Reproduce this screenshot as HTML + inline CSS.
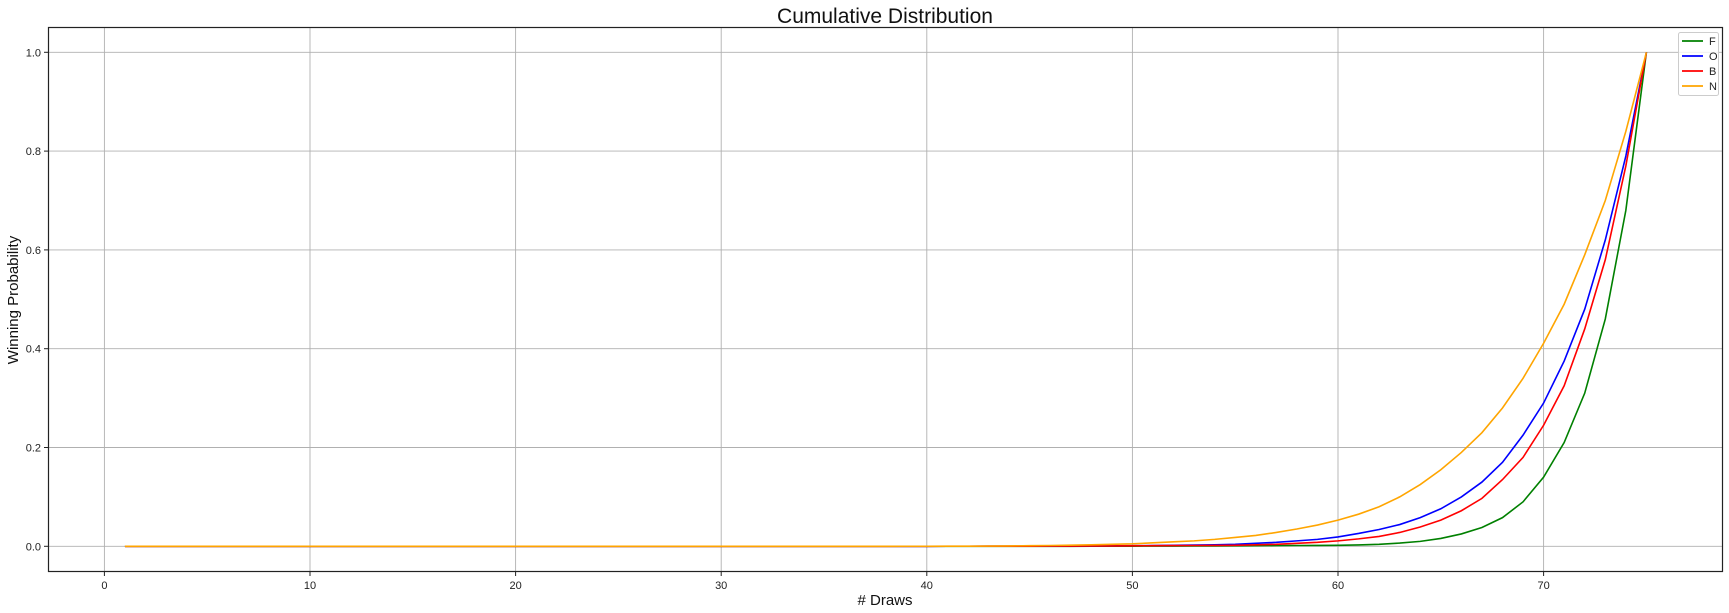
<!DOCTYPE html>
<html><head><meta charset="utf-8"><style>
html,body{margin:0;padding:0;background:#fff;}
svg{display:block;font-family:"Liberation Sans","DejaVu Sans",sans-serif;}
</style></head><body>
<svg id="chart" width="1729" height="613" viewBox="0 0 1729 613" xmlns="http://www.w3.org/2000/svg">
<rect width="1729" height="613" fill="#fff"/>
<g id="grid"></g>
<g id="series"></g>
<rect x="48.5" y="27.5" width="1674" height="544" fill="none" stroke="#222" stroke-width="1.2"/>
<g id="ticks"></g>
<text x="885" y="23" font-size="21" text-anchor="middle" fill="#111">Cumulative Distribution</text>
<text x="885" y="605" font-size="15" text-anchor="middle" fill="#111"># Draws</text>
<text x="0" y="0" font-size="15" text-anchor="middle" fill="#111" transform="translate(18,300) rotate(-90)">Winning Probability</text>
<g id="legend"></g>
</svg>
<script>
const xTicks = [0,10,20,30,40,50,60,70];
const yTicks = [0.0,0.2,0.4,0.6,0.8,1.0];
const yTickLabels = ["0.0","0.2","0.4","0.6","0.8","1.0"];
const seriesNames = ["F","O","B","N"];
const seriesColors = ["green","blue","red","orange"];
const draws = [1,2,3,4,5,6,7,8,9,10,11,12,13,14,15,16,17,18,19,20,21,22,23,24,25,26,27,28,29,30,31,32,33,34,35,36,37,38,39,40,41,42,43,44,45,46,47,48,49,50,51,52,53,54,55,56,57,58,59,60,61,62,63,64,65,66,67,68,69,70,71,72,73,74,75];
const seriesF = [0,0,0,0,0,0,0,0,0,0,0,0,0,0,0,0,0,0,0,0,0,0,0,0,0,0,0,0,0,0,0,0,0,0,0,0,0,0,0,0,0,0,0,0,0,0,0,0.0001,0.0002,0.0003,0.0004,0.0005,0.0006,0.0008,0.001,0.0012,0.0014,0.0016,0.0018,0.002,0.0028,0.004,0.0065,0.01,0.016,0.025,0.038,0.058,0.09,0.14,0.21,0.31,0.46,0.68,1.0];
const seriesO = [0,0,0,0,0,0,0,0,0,0,0,0,0,0,0,0,0,0,0,0,0,0,0,0,0,0,0,0,0,0,0,0,0,0,0,0,0,0,0,0,0.0001,0.0001,0.0002,0.0003,0.0004,0.0005,0.0006,0.0008,0.001,0.0012,0.0015,0.002,0.0025,0.003,0.004,0.006,0.008,0.011,0.014,0.019,0.026,0.034,0.044,0.058,0.076,0.1,0.13,0.17,0.225,0.29,0.375,0.48,0.62,0.79,1.0];
const seriesB = [0,0,0,0,0,0,0,0,0,0,0,0,0,0,0,0,0,0,0,0,0,0,0,0,0,0,0,0,0,0,0,0,0,0,0,0,0,0,0,0,0.0001,0.0001,0.0002,0.0002,0.0003,0.0004,0.0005,0.0006,0.0008,0.001,0.0012,0.0014,0.0016,0.0018,0.002,0.003,0.004,0.006,0.008,0.011,0.015,0.02,0.028,0.039,0.053,0.072,0.097,0.135,0.18,0.245,0.325,0.44,0.58,0.77,1.0];
const seriesN = [0,0,0,0,0,0,0,0,0,0,0,0,0,0,0,0,0,0,0,0,0,0,0,0,0,0,0,0,0.0001,0.0001,0.0002,0.0003,0.0005,0.0007,0.0012,0.0016,0.0022,0.003,0.004,0.005,0.007,0.009,0.011,0.014,0.018,0.022,0.028,0.035,0.043,0.053,0.065,0.08,0.1,0.125,0.155,0.19,0.23,0.28,0.34,0.411,0.49,0.59,0.70,0.84,1.0].slice(0);
const allSeries = [seriesF, seriesO, seriesB, seriesN];

const NS = "http://www.w3.org/2000/svg";
const X0 = 104.4, XS = 20.56, Y0 = 546.3, YS = 494;
const xScale = v => X0 + v * XS;
const yScale = v => Y0 - v * YS;
function mk(tag, parent){ const e = document.createElementNS(NS, tag); parent.appendChild(e); return e; }

const grid = document.getElementById('grid');
const ticks = document.getElementById('ticks');
xTicks.forEach(t => {
  const x = xScale(t);
  const g = mk('line', grid);
  
  
  g.setAttribute('x1', x); g.setAttribute('x2', x); g.setAttribute('y1', 27.5); g.setAttribute('y2', 571.5);
  g.setAttribute('stroke', '#b0b0b0'); g.setAttribute('stroke-width', '0.9');
  const tk = mk('line', ticks);
  
  
  tk.setAttribute('x1', x); tk.setAttribute('x2', x); tk.setAttribute('y1', 571.5); tk.setAttribute('y2', 576);
  tk.setAttribute('stroke', '#222');
  const lb = mk('text', ticks);
  
  
  lb.setAttribute('x', x); lb.setAttribute('y', 589); lb.setAttribute('font-size', '11');
  lb.setAttribute('text-anchor', 'middle'); lb.setAttribute('fill', '#222');
  lb.textContent = t;
});
yTicks.forEach((t, i) => {
  const y = yScale(t);
  const g = mk('line', grid);
  
  
  g.setAttribute('x1', 48.5); g.setAttribute('x2', 1722.5); g.setAttribute('y1', y); g.setAttribute('y2', y);
  g.setAttribute('stroke', '#b0b0b0'); g.setAttribute('stroke-width', '0.9');
  const tk = mk('line', ticks);
  
  
  tk.setAttribute('x1', 44); tk.setAttribute('x2', 48.5); tk.setAttribute('y1', y); tk.setAttribute('y2', y);
  tk.setAttribute('stroke', '#222');
  const lb = mk('text', ticks);
  
  
  lb.setAttribute('x', 41); lb.setAttribute('y', y + 4); lb.setAttribute('font-size', '11');
  lb.setAttribute('text-anchor', 'end'); lb.setAttribute('fill', '#222');
  lb.textContent = yTickLabels[i];
});

const sg = document.getElementById('series');
allSeries.forEach((s, i) => {
  const off = draws.length - s.length;
  const p = mk('polyline', sg);
  
  
  p.setAttribute('points', draws.map((d, j) => xScale(d).toFixed(2) + ',' + yScale(j < off ? 0 : s[j - off]).toFixed(2)).join(' '));
  p.setAttribute('fill', 'none'); p.setAttribute('stroke', seriesColors[i]); p.setAttribute('stroke-width', '1.6');
});

const lg = document.getElementById('legend');
const box = mk('rect', lg);


box.setAttribute('x', 1678.5); box.setAttribute('y', 32.5); box.setAttribute('width', 40); box.setAttribute('height', 63);
box.setAttribute('rx', 2); box.setAttribute('fill', '#fff'); box.setAttribute('fill-opacity', '0.8'); box.setAttribute('stroke', '#ccc');
seriesNames.forEach((n, i) => {
  const y = 41 + i * 15;
  const l = mk('line', lg);
  
  
  l.setAttribute('x1', 1682); l.setAttribute('x2', 1703); l.setAttribute('y1', y); l.setAttribute('y2', y);
  l.setAttribute('stroke', seriesColors[i]); l.setAttribute('stroke-width', '1.8');
  const t = mk('text', lg);
  
  
  t.setAttribute('x', 1709); t.setAttribute('y', y + 4); t.setAttribute('font-size', '11'); t.setAttribute('fill', '#222');
  t.textContent = n;
});
</script>
</body></html>
